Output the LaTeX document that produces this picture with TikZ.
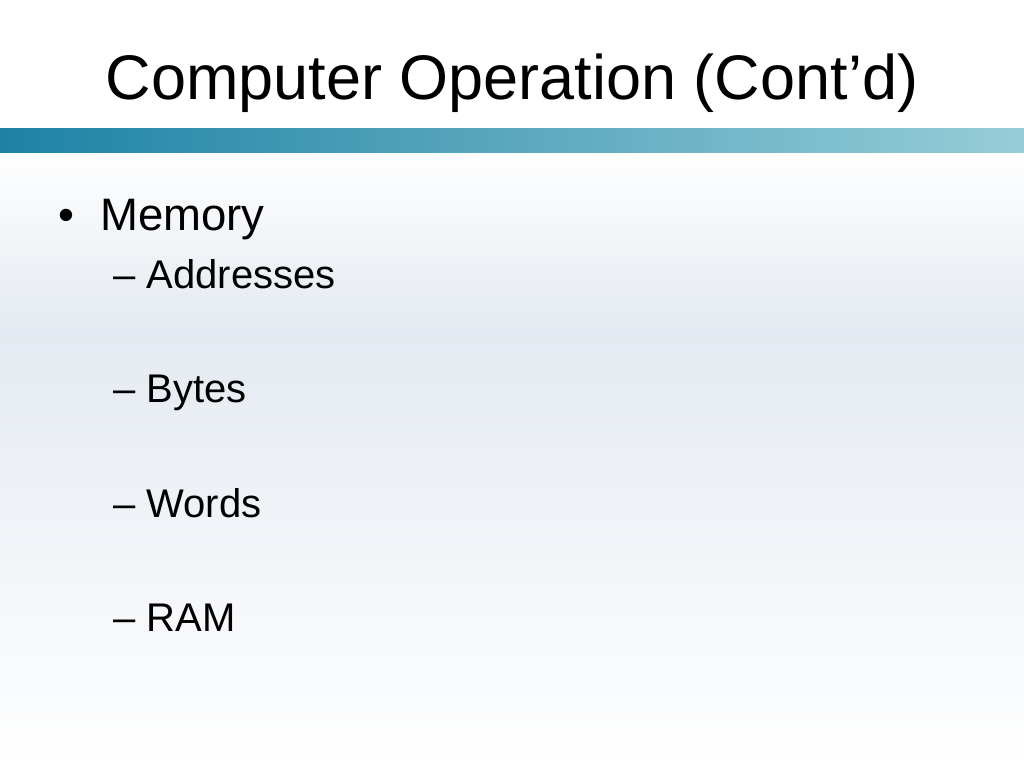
\documentclass[tikz,border=0pt]{standalone}
\usepackage{fontspec}
\setmainfont{Liberation Sans}
\begin{document}
\begin{tikzpicture}[x=1pt,y=-1pt,
  lvl1/.style={anchor=base west,font=\fontsize{45.5}{50}\selectfont,inner sep=0},
  lvl2/.style={anchor=base west,font=\fontsize{40}{44}\selectfont,inner sep=0}]
\useasboundingbox (0,0) rectangle (1024,768);
\fill[white] (0,0) rectangle (1024,128);
\shade[top color=white,bottom color={rgb,255:red,228;green,234;blue,241}] (0,152) rectangle (1024,330);
\shade[top color={rgb,255:red,228;green,234;blue,241},bottom color=white] (0,330) rectangle (1024,768);
\shade[left color={rgb,255:red,30;green,130;blue,165},right color={rgb,255:red,150;green,205;blue,215}] (0,128) rectangle (1024,152);
\node[anchor=base,font=\fontsize{63}{68}\selectfont,inner sep=0] (title) at (512,99) {Computer Operation (Cont’d)};
\node[lvl1] (bul) at (58,230) {•};
\node[lvl1] (mem) at (100,230) {Memory};
\node[lvl2] (a) at (113,288) {– Addresses};
\node[lvl2] (b) at (113,402) {– Bytes};
\node[lvl2] (c) at (113,517) {– Words};
\node[lvl2] (d) at (113,631) {– RAM};
\end{tikzpicture}
\end{document}
